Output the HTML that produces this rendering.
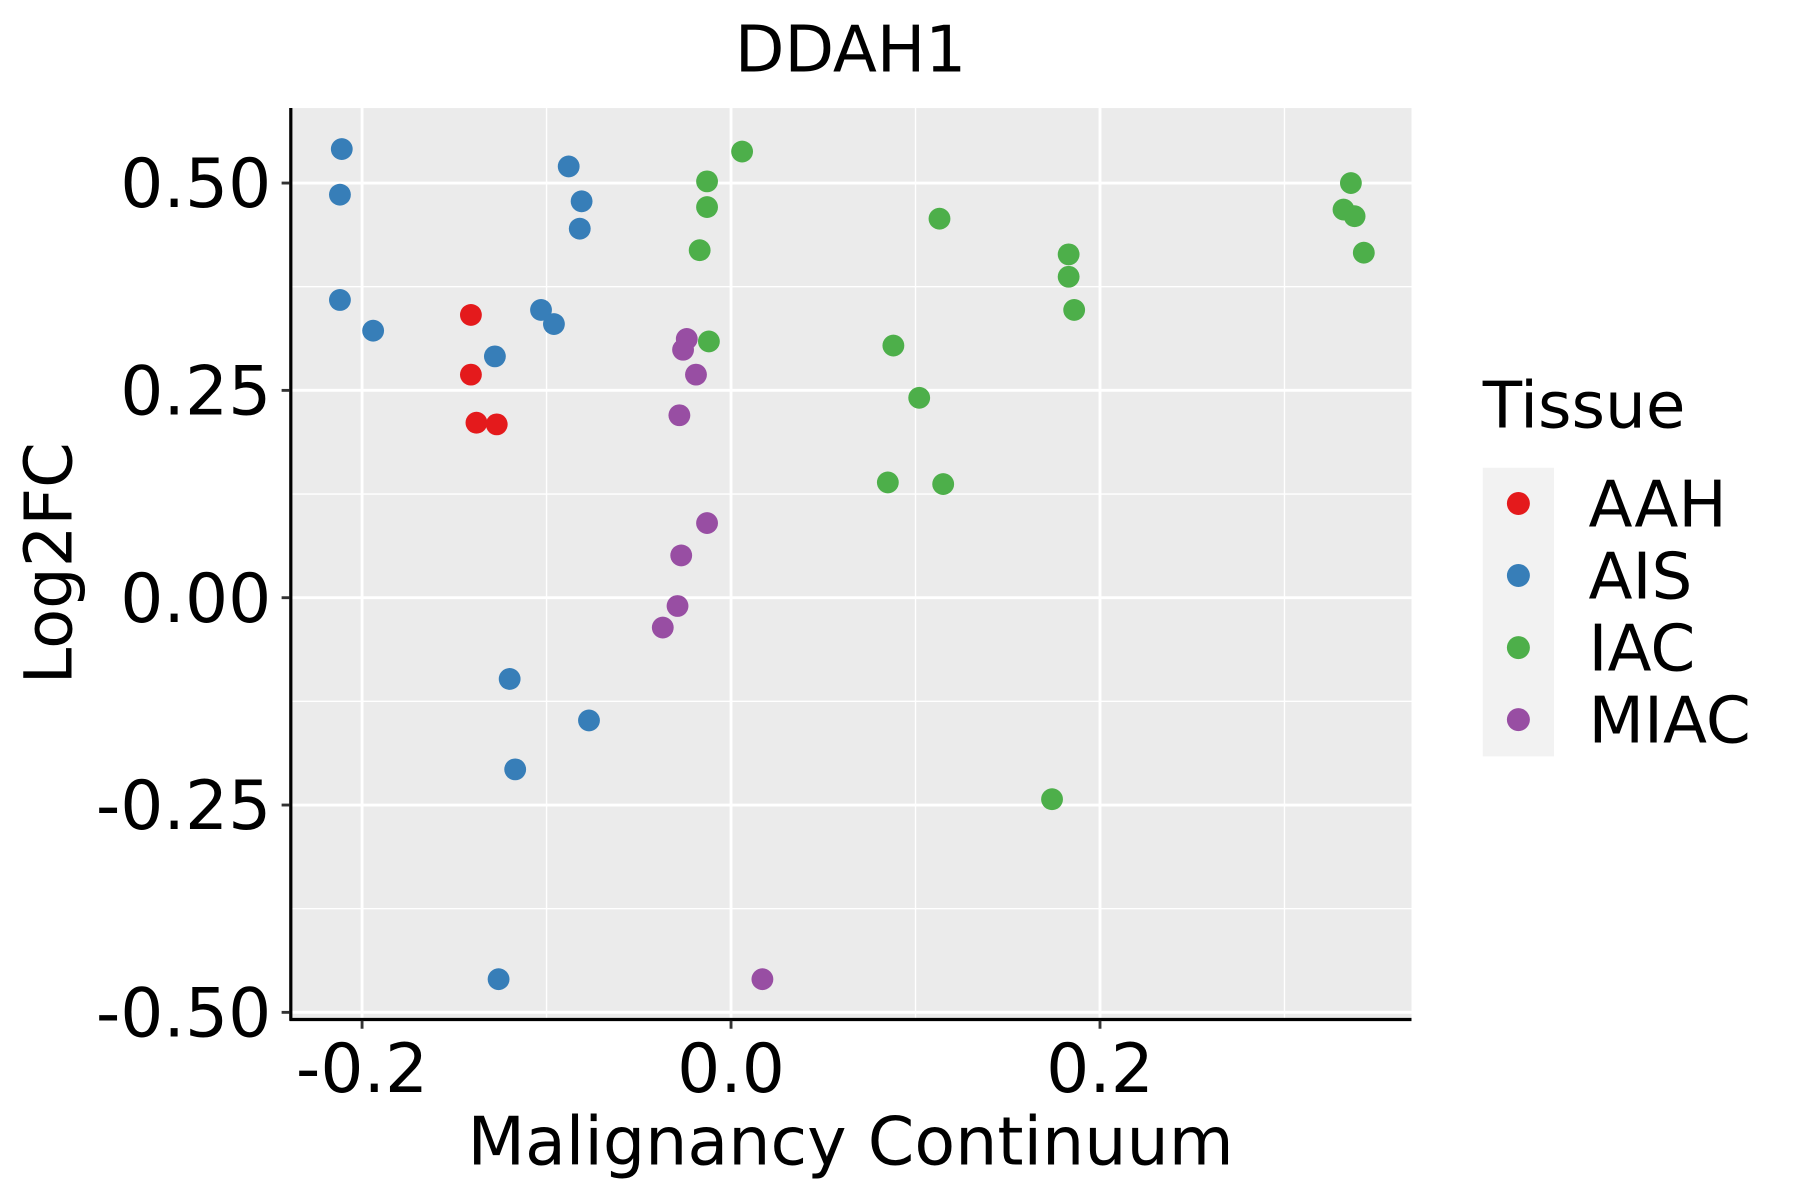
<!DOCTYPE html>
<html><head><meta charset="utf-8"><style>
html,body{margin:0;padding:0;background:#fff;}
svg{display:block;font-family:"DejaVu Sans","Liberation Sans",sans-serif;}
</style></head><body>
<svg id="chart" width="1800" height="1200" viewBox="0 0 1566 1044" preserveAspectRatio="none" xmlns="http://www.w3.org/2000/svg">
<rect x="0" y="0" width="1566" height="1044" fill="#fff"/>
<rect x="253" y="94" width="975" height="793" fill="#ebebeb"/>
<g id="grid"></g>
<g id="points"></g>
<line x1="253" y1="94" x2="253" y2="888" stroke="#000" stroke-width="2.8"/>
<line x1="252" y1="887" x2="1228" y2="887" stroke="#000" stroke-width="2.8"/>
<g id="axes"></g>
<text x="740" y="62" font-size="56" text-anchor="middle">DDAH1</text>
<text x="740" y="1013" font-size="58" text-anchor="middle">Malignancy Continuum</text>
<text transform="translate(62,490) rotate(-90)" font-size="57" text-anchor="middle">Log2FC</text>
<g id="legend">
<text x="1290" y="372" font-size="56">Tissue</text>
<rect x="1290" y="407" width="62" height="251" fill="#f2f2f2"/>
</g>
</svg>
<script>
const xTicks=[-0.2,0.0,0.2];
const xTickLabels=["-0.2","0.0","0.2"];
const xMinor=[-0.1,0.1,0.3];
const yTicks=[0.5,0.25,0,-0.25,-0.5];
const yTickLabels=["0.50","0.25","0.00","-0.25","-0.50"];
const yMinor=[0.375,0.125,-0.125,-0.375];
const groups=["AAH","AIS","IAC","MIAC"];
const colors=["#e41a1c","#377eb8","#4daf4a","#984ea3"];
const aahX=[-0.141,-0.141,-0.138,-0.127];
const aahY=[0.341,0.269,0.211,0.209];
const aisX=[-0.211,-0.212,-0.212,-0.194,-0.128,-0.103,-0.096,-0.088,-0.081,-0.082,-0.120,-0.077,-0.117,-0.126];
const aisY=[0.541,0.486,0.359,0.322,0.291,0.347,0.330,0.520,0.478,0.445,-0.098,-0.148,-0.207,-0.460];
const iacX=[0.006,-0.013,-0.013,-0.017,-0.012,0.113,0.088,0.102,0.085,0.115,0.183,0.183,0.186,0.174,0.336,0.332,0.338,0.343];
const iacY=[0.538,0.502,0.471,0.419,0.309,0.457,0.304,0.241,0.139,0.137,0.414,0.387,0.347,-0.243,0.500,0.468,0.460,0.416];
const miacX=[-0.024,-0.026,-0.019,-0.028,-0.013,-0.027,-0.029,-0.037,0.017];
const miacY=[0.312,0.299,0.269,0.220,0.090,0.051,-0.010,-0.036,-0.460];

const NS="http://www.w3.org/2000/svg";
function sx(v){return 636+1605*v;}
function sy(v){return 520-721.5*v;}
function mk(tag,attrs,parent){const e=document.createElementNS(NS,tag);for(const k in attrs)e.setAttribute(k,attrs[k]);parent.appendChild(e);return e;}
const grid=document.getElementById('grid'),axes=document.getElementById('axes'),pts=document.getElementById('points'),leg=document.getElementById('legend');
xMinor.forEach(v=>{const l=mk('line',{x1:sx(v),x2:sx(v),y1:94,y2:887,stroke:'#fff','stroke-width':1.2},grid);

});
yMinor.forEach(v=>{const l=mk('line',{x1:253,x2:1228,y1:sy(v),y2:sy(v),stroke:'#fff','stroke-width':1.2},grid);

});
xTicks.forEach((v,i)=>{const l=mk('line',{x1:sx(v),x2:sx(v),y1:94,y2:887,stroke:'#fff','stroke-width':2.5},grid);


const t=mk('line',{x1:sx(v),x2:sx(v),y1:888,y2:895,stroke:'#333','stroke-width':2.5},axes);


const tx=mk('text',{x:sx(v),y:950,'font-size':59,'text-anchor':'middle'},axes);tx.textContent=xTickLabels[i];

});
yTicks.forEach((v,i)=>{const l=mk('line',{x1:253,x2:1228,y1:sy(v),y2:sy(v),stroke:'#fff','stroke-width':2.5},grid);


const t=mk('line',{x1:245,x2:252,y1:sy(v),y2:sy(v),stroke:'#333','stroke-width':2.5},axes);


const tx=mk('text',{x:236,y:sy(v)+21,'font-size':59,'text-anchor':'end'},axes);tx.textContent=yTickLabels[i];

});
const series=[[aahX,aahY],[aisX,aisY],[iacX,iacY],[miacX,miacY]];
series.forEach((s,g)=>{s[0].forEach((xv,i)=>{const c=mk('circle',{cx:sx(xv),cy:sy(s[1][i]),r:9.5,fill:colors[g]},pts);

});});
groups.forEach((gname,i)=>{const y=438+62.7*i;
const c=mk('circle',{cx:1321,cy:y,r:10,fill:colors[i]},leg);


const t=mk('text',{x:1382,y:y+20,'font-size':56},leg);t.textContent=gname;

});
</script>
</body></html>
